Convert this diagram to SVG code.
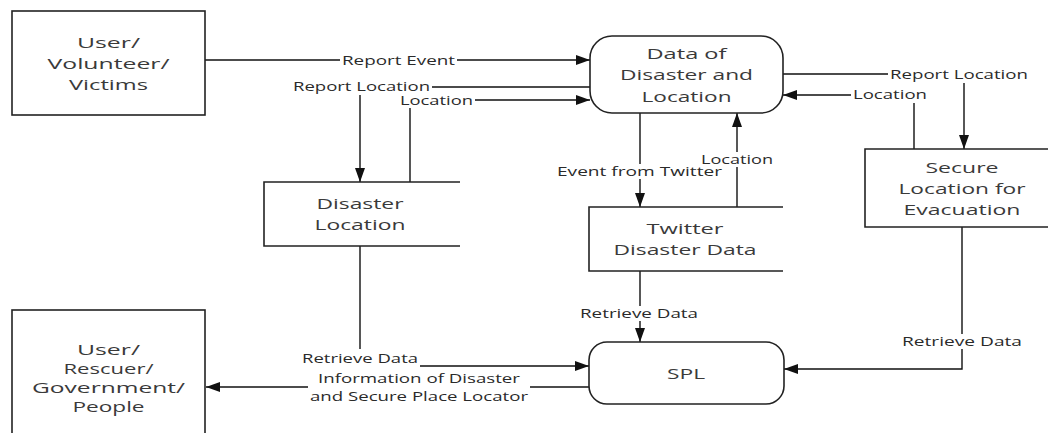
<svg xmlns="http://www.w3.org/2000/svg" width="1048" height="433" viewBox="0 0 1048 433">
<defs>
<marker id="ah" markerUnits="userSpaceOnUse" markerWidth="15" markerHeight="11" refX="14" refY="5" orient="auto">
<path d="M0,0 L14,5 L0,10 z" fill="#111"/>
</marker>
<style>
.box{fill:#fff;stroke:#222;stroke-width:1.6}
.store{fill:none;stroke:#222;stroke-width:1.6}
.nt{font-family:"Open Sans","DejaVu Sans",sans-serif;font-size:15px;fill:#3a3a3a;text-anchor:middle}
.lt{font-family:"Open Sans","DejaVu Sans",sans-serif;font-size:12px;fill:#2a2a2a;text-anchor:middle}
.cn{fill:none;stroke:#111;stroke-width:1.4;marker-end:url(#ah)}
.bg{fill:#fff;stroke:none}
</style>
</defs>
<rect width="1048" height="433" fill="#fff"/>

<g id="connectors">
<path class="cn" d="M205,60 H590"/>
<path class="cn" d="M590,87 H360 V182"/>
<path class="cn" d="M410,182 V100 H590"/>
<path class="cn" d="M783,74 H964 V149"/>
<path class="cn" d="M914,149 V95 H783"/>
<path class="cn" d="M640,113 V207"/>
<path class="cn" d="M737,207 V113"/>
<path class="cn" d="M640,271 V342"/>
<path class="cn" d="M360,246 V366 H589"/>
<path class="cn" d="M589,387 H206"/>
<path class="cn" d="M962,227 V369 H784"/>

<rect class="bg" x="340" y="53" width="117" height="14"/>
<text class="lt" x="398.5" y="64.5" textLength="113" lengthAdjust="spacingAndGlyphs">Report Event</text>
<rect class="bg" x="291" y="79" width="141" height="16"/>
<text class="lt" x="361.5" y="90.5" textLength="137" lengthAdjust="spacingAndGlyphs">Report Location</text>
<rect class="bg" x="398" y="93" width="77" height="15"/>
<text class="lt" x="436.5" y="104.5" textLength="73" lengthAdjust="spacingAndGlyphs">Location</text>
<rect class="bg" x="888" y="67" width="142" height="16"/>
<text class="lt" x="959" y="78.5" textLength="138" lengthAdjust="spacingAndGlyphs">Report Location</text>
<rect class="bg" x="851" y="87" width="78" height="16"/>
<text class="lt" x="890" y="98.5" textLength="74" lengthAdjust="spacingAndGlyphs">Location</text>
<rect class="bg" x="555" y="164" width="169" height="15"/>
<text class="lt" x="639.5" y="175.5" textLength="165" lengthAdjust="spacingAndGlyphs">Event from Twitter</text>
<rect class="bg" x="699" y="152" width="76" height="15"/>
<text class="lt" x="737" y="163.5" textLength="72" lengthAdjust="spacingAndGlyphs">Location</text>
<rect class="bg" x="578" y="306" width="122" height="15"/>
<text class="lt" x="639" y="317.5" textLength="118" lengthAdjust="spacingAndGlyphs">Retrieve Data</text>
<rect class="bg" x="300" y="349" width="120" height="18"/>
<text class="lt" x="360" y="362.5" textLength="116" lengthAdjust="spacingAndGlyphs">Retrieve Data</text>
<rect class="bg" x="308" y="371" width="222" height="33"/>
<text class="lt" x="419" y="382.5" textLength="202" lengthAdjust="spacingAndGlyphs">Information of Disaster</text>
<text class="lt" x="419" y="400.5" textLength="218" lengthAdjust="spacingAndGlyphs">and Secure Place Locator</text>
<rect class="bg" x="900" y="334" width="124" height="15"/>
<text class="lt" x="962" y="345.5" textLength="120" lengthAdjust="spacingAndGlyphs">Retrieve Data</text>
</g>

<g id="user-volunteer-victims">
<rect class="box" x="12" y="11" width="193" height="104"/>
<text class="nt" x="108.5" y="47.5" textLength="63" lengthAdjust="spacingAndGlyphs">User/</text>
<text class="nt" x="108.5" y="68.5" textLength="122" lengthAdjust="spacingAndGlyphs">Volunteer/</text>
<text class="nt" x="108.5" y="89.5" textLength="79" lengthAdjust="spacingAndGlyphs">Victims</text>
</g>

<g id="data-disaster-location">
<rect class="box" x="590" y="36" width="193" height="77" rx="22" ry="22"/>
<text class="nt" x="686.5" y="58.5" textLength="80" lengthAdjust="spacingAndGlyphs">Data of</text>
<text class="nt" x="686.5" y="80" textLength="133" lengthAdjust="spacingAndGlyphs">Disaster and</text>
<text class="nt" x="686.5" y="101.5" textLength="90" lengthAdjust="spacingAndGlyphs">Location</text>
</g>

<g id="disaster-location">
<path class="store" d="M460,182 H264 V246 H460"/>
<text class="nt" x="360" y="208.5" textLength="87" lengthAdjust="spacingAndGlyphs">Disaster</text>
<text class="nt" x="360" y="229.5" textLength="91" lengthAdjust="spacingAndGlyphs">Location</text>
</g>

<g id="twitter-disaster-data">
<path class="store" d="M783,207 H589 V271 H783"/>
<text class="nt" x="685" y="233.5" textLength="77" lengthAdjust="spacingAndGlyphs">Twitter</text>
<text class="nt" x="685" y="254.5" textLength="143" lengthAdjust="spacingAndGlyphs">Disaster Data</text>
</g>

<g id="secure-location">
<path class="store" d="M1048,149 H865 V227 H1048"/>
<text class="nt" x="962" y="172.5" textLength="73" lengthAdjust="spacingAndGlyphs">Secure</text>
<text class="nt" x="962" y="193.5" textLength="127" lengthAdjust="spacingAndGlyphs">Location for</text>
<text class="nt" x="962" y="214.5" textLength="117" lengthAdjust="spacingAndGlyphs">Evacuation</text>
</g>

<g id="spl">
<rect class="box" x="589" y="342" width="195" height="62" rx="18" ry="18"/>
<text class="nt" x="686" y="378.5" textLength="38" lengthAdjust="spacingAndGlyphs">SPL</text>
</g>

<g id="user-rescuer-government-people">
<rect class="box" x="12" y="310" width="193" height="140"/>
<text class="nt" x="108.5" y="354.5" textLength="63" lengthAdjust="spacingAndGlyphs">User/</text>
<text class="nt" x="108.5" y="373.5" textLength="90" lengthAdjust="spacingAndGlyphs">Rescuer/</text>
<text class="nt" x="108.5" y="392.5" textLength="153" lengthAdjust="spacingAndGlyphs">Government/</text>
<text class="nt" x="108.5" y="411.5" textLength="72" lengthAdjust="spacingAndGlyphs">People</text>
</g>
</svg>
